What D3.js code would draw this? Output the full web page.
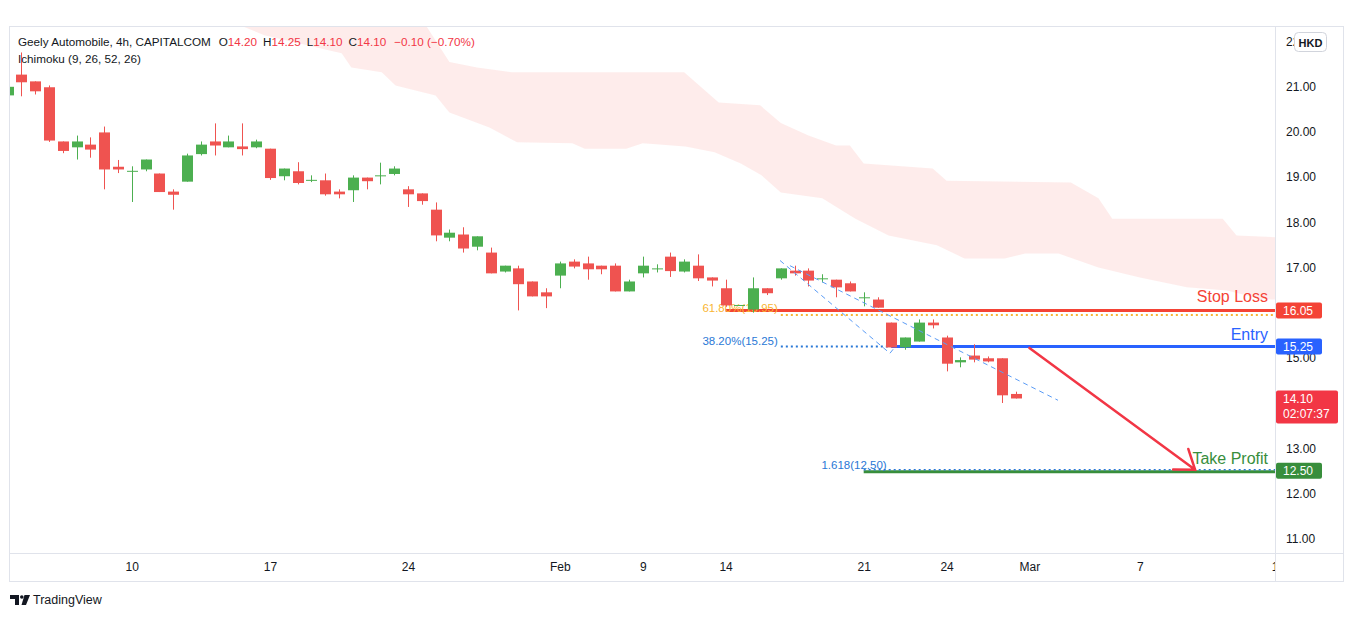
<!DOCTYPE html>
<html>
<head>
<meta charset="utf-8">
<script src="https://cdn.jsdelivr.net/npm/d3@7"></script>
<style>
  body { margin: 0; background: #fff; }
  svg { display: block; font-family: "Liberation Sans", Arial, sans-serif; }
</style>
</head>
<body>
<svg id="chart" width="1354" height="617"></svg>
<script>
// 4h candles, oldest first
var opens  = [20.81,21.27,21.12,20.99,19.79,19.66,19.72,19.99,19.23,19.12,19.17,19.08,18.68,18.90,19.51,19.79,19.66,19.68,19.66,19.63,
              19.02,19.13,18.92,18.93,18.68,18.71,18.99,19.02,19.07,18.73,18.64,18.28,17.66,17.73,17.46,17.33,16.91,16.98,16.69,16.45,
              16.82,17.13,17.09,17.04,17.04,16.47,16.87,16.97,17.24,16.91,17.04,16.78,16.54,16.15,16.07,16.54,16.76,16.93,16.93,16.75,
              16.73,16.65,16.33,16.29,15.78,15.23,15.36,15.78,15.45,14.90,15.05,14.99,14.99,14.20];
var highs  = [21.00,21.76,21.12,21.03,19.79,19.92,19.88,20.12,19.38,19.24,19.39,19.08,18.73,19.52,19.79,20.19,19.92,20.19,19.83,19.63,
              19.19,19.33,19.04,19.08,18.73,19.04,18.99,19.32,19.24,18.80,18.64,18.44,17.84,17.89,17.69,17.44,17.04,17.04,16.69,16.54,
              17.13,17.18,17.24,17.04,17.09,16.73,17.24,17.07,17.33,17.18,17.29,16.78,16.73,16.17,16.78,16.54,16.98,17.04,16.98,16.85,
              16.73,16.69,16.45,16.34,15.78,15.45,15.85,15.85,15.49,15.01,15.30,15.03,14.99,14.25];
var lows   = [20.81,20.79,20.83,19.78,19.53,19.39,19.43,18.73,19.09,18.45,19.13,18.67,18.28,18.90,19.48,19.48,19.66,19.48,19.64,18.94,
              18.93,18.84,18.89,18.59,18.53,18.45,18.73,18.84,19.04,18.34,18.39,17.58,17.58,17.33,17.38,16.87,16.89,16.05,16.36,16.10,
              16.54,16.98,16.73,16.85,16.47,16.47,16.78,16.89,16.79,16.89,16.70,16.58,16.13,16.15,16.00,16.39,16.73,16.82,16.58,16.67,
              16.34,16.47,16.14,16.11,15.23,15.18,15.36,15.65,14.70,14.79,14.90,14.90,14.00,14.10];
var closes = [21.00,21.10,20.90,19.81,19.58,19.79,19.61,19.17,19.17,19.14,19.39,18.67,18.61,19.48,19.72,19.70,19.79,19.62,19.79,18.98,
              19.19,18.87,18.94,18.62,18.62,18.99,18.91,19.04,19.19,18.62,18.47,17.71,17.77,17.42,17.69,16.87,17.04,16.63,16.36,16.36,
              17.09,17.02,16.96,16.96,16.47,16.69,17.04,16.98,16.92,17.13,16.76,16.71,16.16,16.17,16.54,16.43,16.98,16.87,16.71,16.76,
              16.56,16.47,16.34,16.11,15.23,15.45,15.78,15.72,14.87,14.95,14.96,14.92,14.17,14.10];

// Ichimoku cloud edges (bar index, price); cloud is shifted 26 bars ahead
var cloudTopIdx = [16, 30, 32, 34, 36.5, 49, 51.5, 54.5, 56, 58, 60, 61, 62, 67, 68, 77, 79, 80, 88, 89, 92.5];
var cloudTop    = [23.1, 22.5, 21.55, 21.43, 21.32, 21.32, 20.65, 20.59, 20.2, 19.92, 19.7, 19.7, 19.3, 19.19, 18.92, 18.88, 18.53, 18.08, 18.08, 17.71, 17.66];
var cloudBotIdx = [16, 18.6, 23.4, 24.2, 24.9, 27.1, 28.1, 31, 32, 34.9, 36.9, 40.9, 41.8, 44.8, 46, 49.1, 51.2, 53.1, 54.6, 56,
                   59, 61.4, 63.8, 67.3, 69.3, 72.2, 73.7, 76.1, 79, 82, 85.4, 88.3, 90.8, 92.5];
var cloudBot    = [22.47, 22.14, 21.8, 21.74, 21.43, 21.32, 21.03, 20.81, 20.43, 20.1, 19.77, 19.75, 19.63, 19.63, 19.75, 19.68, 19.55, 19.3, 19.04, 18.66,
                   18.53, 18.08, 17.71, 17.49, 17.2, 17.2, 17.31, 17.31, 17.0, 16.78, 16.56, 16.49, 16.3, 16.28];

// time axis
var timeTickIdx    = [9, 19, 29, 40, 46, 52, 62, 68, 74, 82, 92];
var timeTickLabels = ["10", "17", "24", "Feb", "9", "14", "21", "24", "Mar", "7", "14"];
// 14.00 and 16.00 sit under the price tags, so they are not printed
var priceTicks = [11, 12, 13, 15, 17, 18, 19, 20, 21, 22];

// drawings
var stopLoss = 16.05, stopFrom = 52;
var entry = 15.25, entryFrom = 64;
var takeProfit = 12.50, tpFrom = 62;
var fibLevels = [15.95, 15.25, 12.50];
var fibFrom   = [56, 56, 62];
var fibText   = ["61.80%(15.95)", "38.20%(15.25)", "1.618(12.50)"];
var fibColors = ["#f9b531", "#2a78d6", "#2a78d6"];
var trendA = [[55.94, 17.155], [63.9, 15.10], [64.34, 15.27]];
var trendB = [[56.66, 17.04], [76.07, 14.06]];
var arrowPts = [[74, 15.22], [86, 12.52]];
var lastClock = "02:07:37";
var headerName = "Geely Automobile, 4h, CAPITALCOM";
var headerOHLC = [["O", "14.20"], ["H", "14.25"], ["L", "14.10"], ["C", "14.10"]];
var headerChange = "\u22120.10 (\u22120.70%)";

var pLeft = 10, pRight = 1275, pTop = 27, pBottom = 553;
var red = "#ef5350", green = "#4caf50";

var svg = d3.select("#chart");

var x = d3.scaleLinear().domain([0, 73]).range([7.5, 1015.6]);
var y = d3.scaleLinear().domain([11, 21]).range([538.5, 86.8]);

var defs = svg.append("defs");
defs.append("clipPath").attr("id", "plot")
  .append("rect").attr("x", pLeft).attr("y", pTop).attr("width", pRight - pLeft).attr("height", pBottom - pTop);
defs.append("clipPath").attr("id", "taxis")
  .append("rect").attr("x", pLeft).attr("y", pBottom).attr("width", pRight - pLeft).attr("height", 30);

// frame
svg.append("rect").attr("x", 9.5).attr("y", 26.5).attr("width", 1334).attr("height", 555)
  .attr("fill", "none").attr("stroke", "#e0e3eb");
svg.append("line").attr("x1", pRight + 0.5).attr("x2", pRight + 0.5).attr("y1", 27).attr("y2", 581)
  .attr("stroke", "#e0e3eb");
svg.append("line").attr("x1", 10).attr("x2", 1344).attr("y1", pBottom + 0.5).attr("y2", pBottom + 0.5)
  .attr("stroke", "#e0e3eb");

var plot = svg.append("g").attr("clip-path", "url(#plot)");

// cloud
var topPts = cloudTopIdx.map((d, i) => [x(d), y(cloudTop[i])]);
var botPts = cloudBotIdx.map((d, i) => [x(d), y(cloudBot[i])]).reverse();
plot.append("path")
  .attr("d", d3.line()(topPts.concat(botPts)) + "Z")
  .attr("fill", "rgba(244,67,54,0.1)");

// fib dotted levels (the 61.8% one sits just under the stop line)
plot.append("line").attr("x1", x(fibFrom[0])).attr("x2", pRight).attr("y1", y(fibLevels[0])).attr("y2", y(fibLevels[0]))
  .attr("stroke", fibColors[0]).attr("stroke-width", 2).attr("stroke-dasharray", "2,3");
plot.append("line").attr("x1", x(fibFrom[1])).attr("x2", pRight).attr("y1", y(fibLevels[1])).attr("y2", y(fibLevels[1]))
  .attr("stroke", fibColors[1]).attr("stroke-width", 2).attr("stroke-dasharray", "2,3");

// solid lines
plot.append("line").attr("x1", x(stopFrom)).attr("x2", pRight).attr("y1", y(stopLoss)).attr("y2", y(stopLoss))
  .attr("stroke", "#f44336").attr("stroke-width", 3);
plot.append("line").attr("x1", x(entryFrom)).attr("x2", pRight).attr("y1", y(entry)).attr("y2", y(entry))
  .attr("stroke", "#2962ff").attr("stroke-width", 3);
plot.append("line").attr("x1", x(tpFrom)).attr("x2", pRight).attr("y1", y(takeProfit) + 1).attr("y2", y(takeProfit) + 1)
  .attr("stroke", "#388e3c").attr("stroke-width", 3);
plot.append("line").attr("x1", x(fibFrom[2])).attr("x2", pRight).attr("y1", y(fibLevels[2]) - 1).attr("y2", y(fibLevels[2]) - 1)
  .attr("stroke", fibColors[2]).attr("stroke-width", 1.5).attr("stroke-dasharray", "2,3");

// fib labels (the extension label hangs past its line start)
var labelShift = [-3, -3, 23];
fibLevels.forEach(function (v, k) {
  plot.append("text").attr("x", x(fibFrom[k]) + labelShift[k]).attr("y", y(v) - (k == 0 ? 3 : 2))
    .attr("text-anchor", "end").attr("font-size", 11.5).attr("fill", fibColors[k]).text(fibText[k]);
});

// candles
var bars = d3.range(opens.length).map(i => ({ i: i, o: opens[i], h: highs[i], l: lows[i], c: closes[i] }));
var cg = plot.append("g").selectAll("g").data(bars).enter().append("g");
cg.append("line")
  .attr("x1", d => Math.round(x(d.i)) + 0.5).attr("x2", d => Math.round(x(d.i)) + 0.5)
  .attr("y1", d => y(d.h)).attr("y2", d => y(d.l))
  .attr("stroke", d => d.c >= d.o ? green : red);
cg.append("rect")
  .attr("x", d => Math.round(x(d.i)) - 5).attr("width", 11)
  .attr("y", d => y(Math.max(d.o, d.c)))
  .attr("height", d => Math.max(1, Math.abs(y(d.o) - y(d.c))))
  .attr("fill", d => d.c >= d.o ? green : red);

// dashed trend lines
var ln = d3.line().x(d => x(d[0])).y(d => y(d[1]));
[trendA, trendB].forEach(function (t) {
  plot.append("path").attr("d", ln(t)).attr("fill", "none")
    .attr("stroke", "#5b9cf6").attr("stroke-width", 1).attr("stroke-dasharray", "5,4");
});

// right side labels
var labels = [["Stop Loss", stopLoss, "#f44336", -8], ["Entry", entry, "#2962ff", -7], ["Take Profit", takeProfit, "#388e3c", -7]];
labels.forEach(function (l) {
  plot.append("text").attr("x", 1268).attr("y", y(l[1]) + l[3]).attr("text-anchor", "end")
    .attr("font-size", 16).attr("fill", l[2]).text(l[0]);
});

// arrow
var p0 = [x(arrowPts[0][0]), y(arrowPts[0][1])], p1 = [x(arrowPts[1][0]), y(arrowPts[1][1])];
var ang = Math.atan2(p1[1] - p0[1], p1[0] - p0[0]);
var head = 22, spread = 0.62;
var h1 = [p1[0] - head * Math.cos(ang - spread), p1[1] - head * Math.sin(ang - spread)];
var h2 = [p1[0] - head * Math.cos(ang + spread), p1[1] - head * Math.sin(ang + spread)];
plot.append("path").attr("d", d3.line()([p0, p1]) + "M" + h1 + "L" + p1 + "L" + h2)
  .attr("fill", "none").attr("stroke", "#f23645").attr("stroke-width", 2.5).attr("stroke-linecap", "round");

// price axis
var yAxis = d3.axisRight(y).tickValues(priceTicks).tickFormat(d3.format(".2f")).tickSize(0).tickPadding(11);
var ya = svg.append("g").attr("transform", "translate(" + pRight + ",0)").call(yAxis);
ya.select(".domain").remove();
ya.selectAll("text").attr("font-size", 12).attr("fill", "#131722").attr("font-family", "Liberation Sans, Arial, sans-serif");

// time axis
var xAxis = d3.axisBottom(x).tickValues(timeTickIdx).tickFormat((d, i) => timeTickLabels[i]).tickSize(0).tickPadding(9);
var xa = svg.append("g").attr("clip-path", "url(#taxis)").append("g")
  .attr("transform", "translate(0," + pBottom + ")").call(xAxis);
xa.select(".domain").remove();
xa.selectAll("text").attr("font-size", 12).attr("fill", "#131722").attr("font-family", "Liberation Sans, Arial, sans-serif");

// price tags on axis
function tag(v, color, txt, w, h) {
  var g = svg.append("g");
  g.append("rect").attr("x", pRight + 1).attr("y", y(v) - 8).attr("width", w).attr("height", h)
    .attr("rx", 2).attr("fill", color);
  txt.forEach(function (t, k) {
    g.append("text").attr("x", pRight + 8).attr("y", y(v) + 4.5 + k * 15)
      .attr("font-size", 12).attr("fill", "#fff").text(t);
  });
}
var f2 = d3.format(".2f");
tag(stopLoss, "#f44336", [f2(stopLoss)], 46, 16);
tag(entry, "#2962ff", [f2(entry)], 46, 16);
tag(closes[closes.length - 1], "#f23645", [f2(closes[closes.length - 1]), lastClock], 62, 33);
tag(takeProfit, "#388e3c", [f2(takeProfit)], 46, 16);

// currency box
svg.append("rect").attr("x", 1294.5).attr("y", 32.5).attr("width", 32).attr("height", 19).attr("rx", 4)
  .attr("fill", "#fff").attr("stroke", "#d1d4dc");
svg.append("text").attr("x", 1310.5).attr("y", 46.5).attr("text-anchor", "middle")
  .attr("font-size", 11).attr("font-weight", "bold").attr("fill", "#131722").text("HKD");

// header
var h = svg.append("text").attr("x", 18).attr("y", 46).attr("font-size", 11.7).attr("fill", "#131722");
h.append("tspan").text(headerName);
headerOHLC.forEach(function (p, k) {
  h.append("tspan").attr("dx", k == 0 ? 8 : 6).text(p[0]);
  h.append("tspan").attr("fill", "#f23645").text(p[1]);
});
h.append("tspan").attr("dx", 8).attr("fill", "#f23645").text(headerChange);
svg.append("text").attr("x", 18).attr("y", 63).attr("font-size", 11.7).attr("fill", "#131722").text("Ichimoku (9, 26, 52, 26)");

// logo
var logo = svg.append("g").attr("fill", "#131722");
logo.append("path").attr("d", "M10,595h9v10h-4v-6h-5z");
logo.append("circle").attr("cx", 21.8).attr("cy", 597).attr("r", 1.8);
logo.append("path").attr("d", "M24.5,595h5.5l-4,10h-4.5z");
svg.append("text").attr("x", 33).attr("y", 604).attr("font-size", 12.5).attr("fill", "#131722").text("TradingView");
</script>
</body>
</html>
